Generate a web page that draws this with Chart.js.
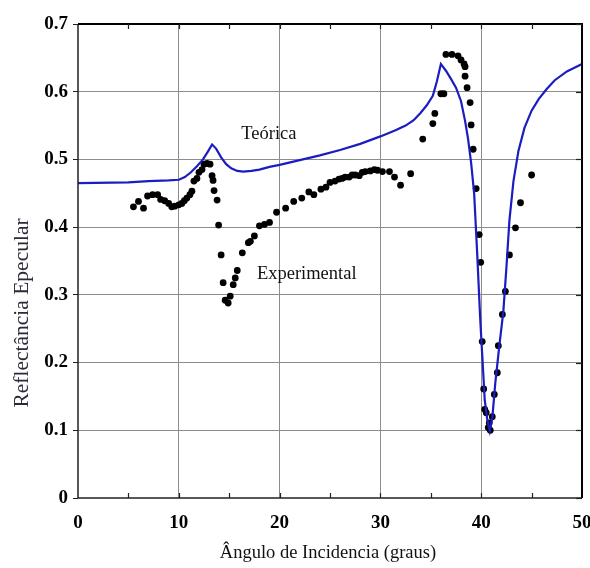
<!DOCTYPE html>
<html>
<head>
<meta charset="utf-8">
<script src="https://cdn.jsdelivr.net/npm/chart.js@4.4.1/dist/chart.umd.min.js"></script>
<style>
  html, body { margin: 0; padding: 0; background: #fff; }
  canvas { display: block; }
</style>
</head>
<body>
<canvas id="chart" width="590" height="568"></canvas>
<script>
// curva teórica
var theoryX = [0, 5, 7, 9, 10, 10.6, 11.2, 11.8, 12.4, 12.9, 13.3, 13.7, 14.2, 14.7, 15.2, 15.8, 16.4, 17.2, 18, 19,
  20, 22, 24, 26, 28, 30, 31.5, 32.5, 33.3, 34, 34.6, 35.2, 35.6, 36, 36.5, 37, 37.5, 38, 38.4, 38.7,
  39, 39.3, 39.6, 39.9, 40.1, 40.35, 40.6, 40.85, 41.1, 41.4, 41.8, 42.2, 42.5, 42.8, 43.2, 43.7, 44.3, 45, 45.7, 46.5,
  47.3, 48.5, 50];
var theoryY = [0.465, 0.466, 0.468, 0.469, 0.470, 0.474, 0.481, 0.490, 0.500, 0.512, 0.522, 0.516, 0.503, 0.493, 0.487, 0.483, 0.482, 0.483, 0.485, 0.489,
  0.492, 0.499, 0.506, 0.514, 0.523, 0.534, 0.543, 0.550, 0.558, 0.569, 0.580, 0.594, 0.615, 0.641, 0.631, 0.619, 0.606, 0.586, 0.557, 0.530,
  0.495, 0.450, 0.362, 0.265, 0.212, 0.145, 0.116, 0.099, 0.118, 0.170, 0.225, 0.276, 0.340, 0.410, 0.468, 0.513, 0.547, 0.572, 0.589, 0.604,
  0.617, 0.630, 0.641];

// pontos experimentais
var expX = [5.5, 6.0, 6.5, 6.9, 7.4, 7.9, 8.2, 8.6, 9.0, 9.3, 9.6, 10.0, 10.3, 10.55, 10.8, 11.1, 11.3, 11.5, 11.8, 12.0,
  12.3, 12.5, 12.8, 13.1, 13.3, 13.4, 13.5, 13.8, 13.95, 14.2, 14.4, 14.6, 14.9, 15.1, 15.4, 15.6, 15.8, 16.3, 16.9, 17.1,
  17.5, 18.0, 18.5, 19.0, 19.7, 20.6, 21.4, 22.2, 22.9, 23.4, 24.1, 24.6, 25.0, 25.5, 25.9, 26.2, 26.5, 26.9, 27.2, 27.5,
  27.9, 28.2, 28.5, 29.0, 29.4, 29.7, 30.2, 30.9, 31.4, 32.0, 33.0, 34.2, 35.2, 35.4, 36.0, 36.3, 36.5, 37.1, 37.7, 38.0,
  38.3, 38.4, 38.4, 38.6, 38.9, 39.0, 39.2, 39.5, 39.8, 39.95, 40.1, 40.25, 40.35, 40.5, 40.7, 40.8, 40.9, 41.1, 41.3, 41.6,
  41.7, 42.1, 42.4, 42.8, 43.4, 43.9, 45.0];
var expY = [0.430, 0.438, 0.428, 0.446, 0.448, 0.448, 0.441, 0.439, 0.435, 0.430, 0.431, 0.433, 0.435, 0.439, 0.443, 0.448, 0.453, 0.468, 0.472, 0.481,
  0.485, 0.493, 0.494, 0.493, 0.476, 0.469, 0.454, 0.440, 0.403, 0.359, 0.318, 0.292, 0.288, 0.298, 0.315, 0.325, 0.336, 0.362, 0.377, 0.379,
  0.387, 0.402, 0.404, 0.407, 0.422, 0.428, 0.438, 0.443, 0.452, 0.448, 0.456, 0.459, 0.466, 0.468, 0.471, 0.472, 0.474, 0.474, 0.477, 0.477,
  0.476, 0.481, 0.482, 0.483, 0.485, 0.484, 0.482, 0.482, 0.474, 0.462, 0.479, 0.530, 0.553, 0.568, 0.597, 0.597, 0.655, 0.655, 0.653, 0.647,
  0.641, 0.637, 0.623, 0.606, 0.584, 0.551, 0.515, 0.457, 0.389, 0.348, 0.231, 0.161, 0.131, 0.126, 0.104, 0.111, 0.100, 0.120, 0.153, 0.185,
  0.225, 0.271, 0.305, 0.359, 0.399, 0.436, 0.477];

var xTicks = [0, 10, 20, 30, 40, 50];
var yTicks = [0, 0.1, 0.2, 0.3, 0.4, 0.5, 0.6, 0.7];
var xTitle = "Ângulo de Incidencia (graus)";
var yTitle = "Reflectância Epecular";
var labelTheory = "Teórica";
var labelExp = "Experimental";

function pts(xs, ys) {
  return xs.map(function (x, i) { return {x: x, y: ys[i]}; });
}

var serif = '"Liberation Serif", "Times New Roman", serif';

// moldura, marcas internas, textos
var framePlugin = {
  id: 'frame',
  afterDraw: function (chart) {
    var ctx = chart.ctx;
    var a = chart.chartArea;
    var sx = chart.scales.x, sy = chart.scales.y;
    ctx.save();
    ctx.strokeStyle = '#222';
    ctx.lineWidth = 1.5;
    ctx.beginPath();
    ctx.moveTo(a.left, a.top); ctx.lineTo(a.left, a.bottom); ctx.lineTo(a.right, a.bottom);
    ctx.stroke();
    ctx.strokeStyle = '#000';
    ctx.lineWidth = 2;
    ctx.beginPath();
    ctx.moveTo(a.left, a.top); ctx.lineTo(a.right, a.top); ctx.lineTo(a.right, a.bottom);
    ctx.stroke();

    ctx.lineWidth = 1.2;
    ctx.strokeStyle = '#222';
    for (var v = 5; v < 50; v += 5) {
      var px = Math.round(sx.getPixelForValue(v)) + 0.5;
      ctx.beginPath();
      ctx.moveTo(px, a.bottom); ctx.lineTo(px, a.bottom - 5);
      ctx.moveTo(px, a.top); ctx.lineTo(px, a.top + 5);
      ctx.stroke();
    }
    yTicks.forEach(function (t) {
      var py = Math.round(sy.getPixelForValue(t)) + 0.5;
      ctx.beginPath();
      ctx.moveTo(a.right, py); ctx.lineTo(a.right - 6, py);
      ctx.stroke();
    });

    ctx.fillStyle = '#111';
    ctx.font = '18.5px ' + serif;
    ctx.textAlign = 'left';
    ctx.textBaseline = 'alphabetic';
    ctx.fillText(labelTheory, sx.getPixelForValue(16.2), sy.getPixelForValue(0.530));
    ctx.fillText(labelExp, sx.getPixelForValue(17.75), sy.getPixelForValue(0.324));

    ctx.textAlign = 'center';
    ctx.textBaseline = 'middle';
    ctx.fillText(xTitle, 328, 553);

    ctx.fillStyle = '#2a2a3a';
    ctx.translate(22, 313);
    ctx.rotate(-Math.PI / 2);
    ctx.font = '21.5px ' + serif;
    ctx.fillText(yTitle, 0, 0);
    ctx.restore();
  }
};

var ctx = document.getElementById('chart').getContext('2d');
new Chart(ctx, {
  type: 'scatter',
  data: {
    datasets: [
      {
        label: labelTheory,
        data: pts(theoryX, theoryY),
        showLine: true,
        borderColor: '#1c1cc0',
        borderWidth: 2.2,
        pointRadius: 0,
        tension: 0,
        order: 0
      },
      {
        label: labelExp,
        data: pts(expX, expY),
        showLine: false,
        backgroundColor: '#000',
        borderWidth: 0,
        pointRadius: 3.4,
        order: 1
      }
    ]
  },
  options: {
    responsive: false,
    animation: false,
    devicePixelRatio: 1,
    layout: { padding: { top: 24, right: 8, left: 0, bottom: 0 } },
    plugins: { legend: { display: false }, tooltip: { enabled: false } },
    scales: {
      x: {
        type: 'linear',
        min: 0, max: 50,
        afterFit: function (s) { s.height = 70; s.paddingLeft = 0; s.paddingRight = 0; },
        afterBuildTicks: function (s) { s.ticks = xTicks.map(function (v) { return {value: v}; }); },
        border: { display: false },
        grid: {
          drawTicks: false,
          lineWidth: 1,
          color: function (c) { var v = c.tick.value; return (v > 0 && v < 50) ? '#8c8c8c' : 'rgba(0,0,0,0)'; }
        },
        ticks: {
          padding: 14,
          color: '#000',
          font: { family: serif, size: 19, weight: 'bold' },
          callback: function (v) { return String(v); }
        }
      },
      y: {
        type: 'linear',
        min: 0, max: 0.7,
        afterFit: function (s) { s.width = 78; s.paddingTop = 0; s.paddingBottom = 0; },
        afterBuildTicks: function (s) { s.ticks = yTicks.map(function (v) { return {value: v}; }); },
        border: { display: false },
        grid: {
          drawTicks: true,
          tickLength: 5,
          tickColor: '#222',
          lineWidth: 1,
          color: function (c) { var v = c.tick.value; return (v > 0.01 && v < 0.69) ? '#8c8c8c' : 'rgba(0,0,0,0)'; }
        },
        ticks: {
          padding: 5,
          color: '#000',
          font: { family: serif, size: 19, weight: 'bold' },
          callback: function (v) { return String(Math.round(v * 10) / 10); }
        }
      }
    }
  },
  plugins: [framePlugin]
});
</script>
</body>
</html>
